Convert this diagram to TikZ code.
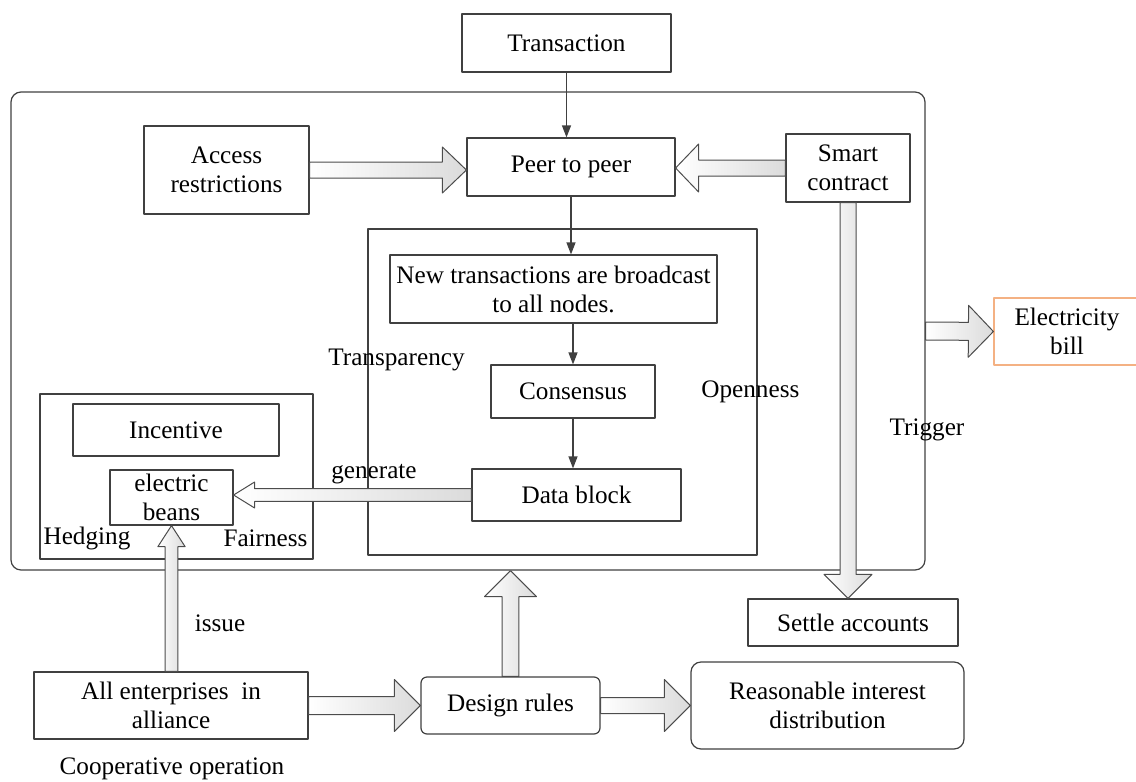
\documentclass[tikz,border=0pt]{standalone}
\usepackage{fontspec}
\setmainfont{Liberation Serif}
\usetikzlibrary{arrows.meta,calc,positioning}
\definecolor{billline}{RGB}{244,177,131}
\tikzset{
	sz/.style 2 args={minimum width=#1*0.5pt, minimum height=#2*0.5pt},
	box/.style={draw=black!75, line width=0.6pt, fill=white, align=center, inner sep=1pt},
	rbox/.style={box, rounded corners=3pt},
	thin/.style={draw=black!75, line width=0.6pt, -{Triangle[length=6pt,width=4.5pt]}},
	fatfill/.style={draw=black!70, line width=0.5pt, left color=white, right color=black!14},
	lbl/.style={inner sep=0pt}
}
% hollow block arrow: from, to, half shaft, half head, head length
\newcommand{\fatarrow}[5]{%
	\coordinate (fa-a) at (#1);
	\coordinate (fa-b) at (#2);
	\coordinate (fa-h) at ($(fa-b)!#5!(fa-a)$);
	\draw[fatfill] ($(fa-a)!#3!90:(fa-b)$) -- ($(fa-h)!#3!-90:(fa-a)$) -- ($(fa-h)!#4!-90:(fa-a)$)
	-- (fa-b) -- ($(fa-h)!#4!90:(fa-a)$) -- ($(fa-h)!#3!90:(fa-a)$) -- ($(fa-a)!#3!-90:(fa-b)$) -- cycle;}
\begin{document}
\begin{tikzpicture}[x=0.5pt, y=-0.5pt, font=\fontsize{12.6}{14.5}\selectfont, line join=round]
	\useasboundingbox (0,0) rectangle (1136,782);
	% frames
	\node[draw=black!75, line width=0.6pt, rounded corners=5pt, sz={914}{478}] (outer) at (468,331) {};
	\node[draw=black!75, line width=0.6pt, sz={389}{326}] (transp) at (562.5,392) {};
	\node[draw=black!75, line width=0.6pt, sz={273}{165}] (hedge) at (176.5,476.5) {};
	% boxes
	\node[box, sz={209}{58}] (trans) at (566.5,43) {Transaction};
	\node[box, sz={165}{88}] (access) at (226.5,170) {Access\\restrictions};
	\node[box, sz={208}{58}] (peer) at (571,167) {Peer to peer};
	\node[box, sz={124}{68}] (smart) at (848,168) {Smart\\contract};
	\node[box, sz={327}{68}] (newtx) at (553.5,289) {New transactions are broadcast\\to all nodes.};
	\node[box, sz={164}{53}] (cons) at (573,391.5) {Consensus};
	\node[box, sz={209}{52}] (data) at (576.5,495) {Data block};
	\node[box, sz={206}{52}] (incent) at (176,430) {Incentive};
	\node[box, sz={123}{55}] (beans) at (171.5,497.5) {electric\\beans};
	\node[box, draw=billline, sz={146}{67}] (elec) at (1067,331.5) {Electricity\\bill};
	\node[box, sz={210}{47}] (settle) at (853,622.5) {Settle accounts};
	\node[box, sz={274}{67}] (ent) at (171,705.5) {All enterprises~ in\\alliance};
	\node[rbox, sz={179}{57}] (design) at (510.5,705.5) {Design rules};
	\node[rbox, rounded corners=5pt, sz={273}{87}] (reason) at (827.5,705.5) {Reasonable interest\\distribution};
	% labels
	\node[lbl] (ltransp) at (396.5,360) {Transparency};
	\node[lbl, anchor=west] (lopen) at (701,392) {Openness};
	\node[lbl] (ltrig) at (927,430) {Trigger};
	\node[lbl] (lgen) at (374,474) {generate};
	\node[lbl] (lissue) at (220,623) {issue};
	\node[lbl] (lhedge) at (87,538) {Hedging};
	\node[lbl] (lfair) at (265.5,538) {Fairness};
	\node[lbl] (lcoop) at (172,769) {Cooperative operation};
	% thin arrows
	\draw[thin] (trans.south) -- (trans.south |- peer.north);
	\draw[thin] (peer.south) -- (peer.south |- newtx.north);
	\draw[thin] (cons.north |- newtx.south) -- (cons.north);
	\draw[thin] (cons.south) -- (cons.south |- data.north);
	% block arrows
	\fatarrow{access.east}{access.east -| peer.west}{4pt}{11.5pt}{12pt}
	\fatarrow{smart.west}{smart.west -| peer.east}{4pt}{12pt}{11.5pt}
	\fatarrow{smart.south}{smart.south |- settle.north}{4pt}{12pt}{12pt}
	\fatarrow{outer.east}{elec.west}{4.5pt}{13pt}{12.5pt}
	\fatarrow{data.west}{data.west -| beans.east}{3.2pt}{6.5pt}{10.5pt}
	\fatarrow{beans.south |- ent.north}{beans.south}{3.2pt}{6.8pt}{10.5pt}
	\fatarrow{design.north}{design.north |- outer.south}{4.2pt}{13pt}{13pt}
	\fatarrow{ent.east}{design.west}{4.5pt}{13pt}{13pt}
	\fatarrow{design.east}{reason.west}{4pt}{13pt}{13pt}
\end{tikzpicture}
\end{document}
